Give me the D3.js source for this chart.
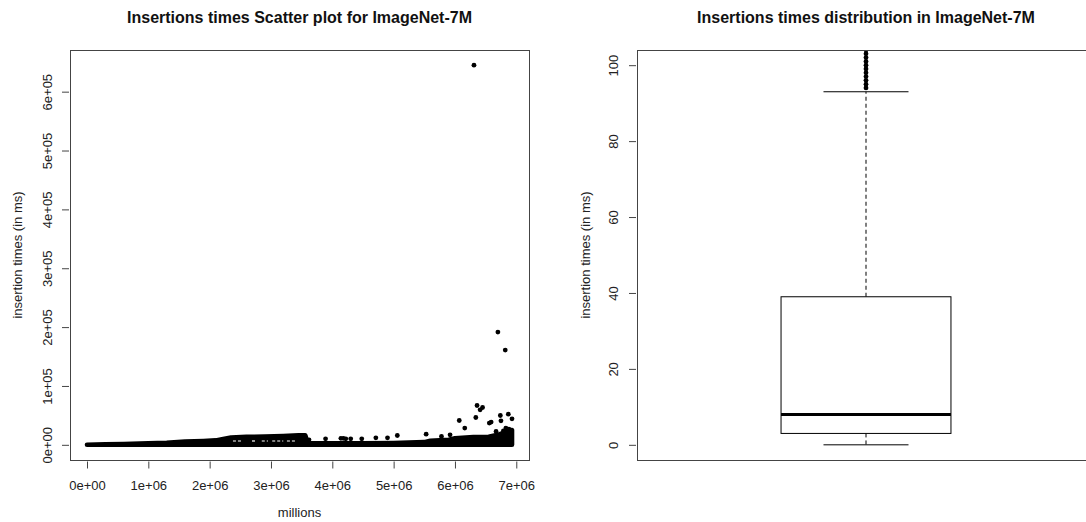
<!DOCTYPE html>
<html><head><meta charset="utf-8">
<script src="https://cdn.jsdelivr.net/npm/d3@7"></script>
<style>body{margin:0;background:#fff}svg{display:block;font-family:"Liberation Sans",Arial,sans-serif}</style>
</head><body><svg id="chart" width="1086" height="522"></svg>
<script>
// ---------- data ----------
const xTickValues = [0, 1e6, 2e6, 3e6, 4e6, 5e6, 6e6, 7e6];
const xTickLabels = ["0e+00", "1e+06", "2e+06", "3e+06", "4e+06", "5e+06", "6e+06", "7e+06"];
const yTickValuesLeft = [0, 1e5, 2e5, 3e5, 4e5, 5e5, 6e5];
const yTickLabelsLeft = ["0e+00", "1e+05", "2e+05", "3e+05", "4e+05", "5e+05", "6e+05"];
const yTickValuesRight = [0, 20, 40, 60, 80, 100];

// dense cloud of points: upper envelope (point centres) along x
const cloudX =   [0, 0.3e6, 0.6e6, 1.0e6, 1.3e6, 1.6e6, 1.9e6, 2.1e6, 2.2e6, 2.35e6, 2.6e6, 2.9e6, 3.2e6, 3.45e6, 3.56e6, 3.6e6, 4.0e6, 4.5e6, 5.0e6, 5.5e6, 5.6e6, 5.9e6, 6.0e6, 6.3e6, 6.55e6, 6.7e6, 6.85e6, 6.93e6];
const cloudTop = [0, 800, 1500, 2500, 3500, 5500, 6500, 7500, 9500, 12500, 13500, 14000, 15000, 16000, 16000, 2500, 2500, 2500, 3000, 4500, 7000, 8500, 11000, 13000, 13500, 17000, 23000, 25000];
// light gaps visible inside the cloud
const gapStart = [2.38e6, 2.69e6, 2.85e6, 3.02e6, 3.26e6];
const gapEnd   = [2.54e6, 2.77e6, 2.95e6, 3.20e6, 3.42e6];
const gapValue = 6500;
// individual visible points
const pointsX = [3.62e6, 3.89e6, 4.14e6, 4.18e6, 4.22e6, 4.30e6, 4.48e6, 4.71e6, 4.90e6, 5.06e6, 5.53e6, 5.78e6, 5.92e6, 6.07e6, 6.16e6, 6.34e6, 6.36e6, 6.41e6, 6.45e6, 6.56e6, 6.59e6, 6.67e6, 6.74e6, 6.75e6, 6.79e6, 6.83e6, 6.87e6, 6.88e6, 6.93e6, 6.31e6, 6.70e6, 6.82e6];
const pointsY = [8500, 10200, 11000, 11000, 10200, 10200, 10200, 11900, 11900, 15800, 18100, 14100, 17000, 41300, 28400, 46400, 66800, 59500, 63400, 36900, 38600, 22600, 49800, 40800, 23800, 28400, 52100, 26700, 44200, 645000, 191600, 161000];

// box plot statistics
const boxStatNames  = ["lowerWhisker", "q1", "median", "q3", "upperWhisker"];
const boxStatValues = [0, 3, 8, 39, 93];
const outliers = [94, 95, 96, 97, 98, 99, 100, 101, 102, 103, 104, 105, 106];

// ---------- layout ----------
const svg = d3.select("#chart");
const L = {left: 70, right: 529, top: 50, bottom: 460};
const R = {left: 637, right: 1095, top: 50, bottom: 460};
const stat = Object.fromEntries(boxStatNames.map((n, i) => [n, boxStatValues[i]]));

function rExt(lo, hi) { const d = (hi - lo) * 0.04; return [lo - d, hi + d]; }

// ---------- left panel ----------
const allX = cloudX.concat(pointsX), allY = cloudTop.concat(pointsY);
const xL = d3.scaleLinear().domain(rExt(d3.min(allX), d3.max(allX))).range([L.left, L.right]);
const yL = d3.scaleLinear().domain(rExt(0, d3.max(allY))).range([L.bottom, L.top]);

svg.append("defs").call(d => {
  d.append("clipPath").attr("id", "clipL").append("rect")
    .attr("x", L.left).attr("y", L.top).attr("width", L.right - L.left).attr("height", L.bottom - L.top);
  d.append("clipPath").attr("id", "clipR").append("rect")
    .attr("x", R.left).attr("y", R.top).attr("width", R.right - R.left).attr("height", R.bottom - R.top);
});

const gL = svg.append("g").attr("clip-path", "url(#clipL)");
const cloud = cloudX.map((x, i) => ({x, y: cloudTop[i]}));
gL.append("path").datum(cloud)
  .attr("d", d3.area().x(d => xL(d.x)).y0(yL(0)).y1(d => yL(d.y)))
  .attr("fill", "#000").attr("stroke", "#000").attr("stroke-width", 4.6).attr("stroke-linejoin", "round");
gL.selectAll("line.gap").data(gapStart).join("line").attr("class", "gap")
  .attr("x1", d => xL(d)).attr("x2", (d, i) => xL(gapEnd[i]))
  .attr("y1", yL(gapValue)).attr("y2", yL(gapValue))
  .attr("stroke", "#fff").attr("stroke-width", 1.2).attr("stroke-dasharray", "3,2");
gL.selectAll("circle").data(pointsX).join("circle")
  .attr("cx", d => xL(d)).attr("cy", (d, i) => yL(pointsY[i])).attr("r", 2.4).attr("fill", "#000");

svg.append("rect").attr("x", L.left + 0.5).attr("y", L.top + 0.5)
  .attr("width", L.right - L.left).attr("height", L.bottom - L.top)
  .attr("fill", "none").attr("stroke", "#444").attr("stroke-width", 1);

svg.append("g").attr("transform", `translate(0,${L.bottom + 1.5})`)
  .call(d3.axisBottom(xL).tickValues(xTickValues).tickFormat((d, i) => xTickLabels[i]).tickSize(7).tickPadding(12));
const axLL = svg.append("g").attr("transform", `translate(${L.left - 1},0)`)
  .call(d3.axisLeft(yL).tickValues(yTickValuesLeft).tickFormat((d, i) => yTickLabelsLeft[i]).tickSize(7));
axLL.selectAll("text").attr("x", 0).attr("dy", null).attr("text-anchor", "middle")
  .attr("dominant-baseline", "central").attr("transform", "translate(-22,0) rotate(-90)");

// ---------- right panel ----------
const xR = d3.scaleLinear().domain([0.5, 1.5]).range([R.left, R.right]);
const yR = d3.scaleLinear().domain(rExt(0, 100)).range([R.bottom, R.top]);
const boxW = 0.371, capW = 0.1856;
const gR = svg.append("g").attr("clip-path", "url(#clipR)");
const dash = "4,3";
gR.append("line").attr("x1", xR(1)).attr("x2", xR(1)).attr("y1", yR(stat.q3)).attr("y2", yR(stat.upperWhisker))
  .attr("stroke", "#000").attr("stroke-dasharray", dash);
gR.append("line").attr("x1", xR(1)).attr("x2", xR(1)).attr("y1", yR(stat.q1)).attr("y2", yR(stat.lowerWhisker))
  .attr("stroke", "#000").attr("stroke-dasharray", dash);
[stat.upperWhisker, stat.lowerWhisker].forEach(v => {
  gR.append("line").attr("x1", xR(1 - capW / 2)).attr("x2", xR(1 + capW / 2))
    .attr("y1", yR(v)).attr("y2", yR(v)).attr("stroke", "#000");
});
gR.append("rect").attr("x", xR(1 - boxW / 2)).attr("y", yR(stat.q3))
  .attr("width", xR(1 + boxW / 2) - xR(1 - boxW / 2)).attr("height", yR(stat.q1) - yR(stat.q3))
  .attr("fill", "#fff").attr("stroke", "#000");
gR.append("line").attr("x1", xR(1 - boxW / 2)).attr("x2", xR(1 + boxW / 2))
  .attr("y1", yR(stat.median)).attr("y2", yR(stat.median)).attr("stroke", "#000").attr("stroke-width", 3);
gR.selectAll("circle").data(outliers).join("circle")
  .attr("cx", xR(1)).attr("cy", d => yR(d)).attr("r", 2.4).attr("fill", "#000");

svg.append("rect").attr("x", R.left + 0.5).attr("y", R.top + 0.5)
  .attr("width", R.right - R.left).attr("height", R.bottom - R.top)
  .attr("fill", "none").attr("stroke", "#444").attr("stroke-width", 1);
const axLR = svg.append("g").attr("transform", `translate(${R.left - 1},0)`)
  .call(d3.axisLeft(yR).tickValues(yTickValuesRight).tickSize(7));
axLR.selectAll("text").attr("x", 0).attr("dy", null).attr("text-anchor", "middle")
  .attr("dominant-baseline", "central").attr("transform", "translate(-23,0) rotate(-90)");

// axis styling like R
svg.selectAll(".domain").remove();
svg.selectAll(".tick line").attr("stroke", "#444");
svg.selectAll(".tick text").attr("font-size", 13).attr("fill", "#222").attr("font-family", "'Liberation Sans',Arial,sans-serif");

// ---------- titles and labels ----------
const midL = (L.left + L.right) / 2, midR = xR(1);
svg.append("text").attr("x", midL).attr("y", 23).attr("text-anchor", "middle")
  .attr("font-weight", "bold").attr("font-size", 16).attr("fill", "#111").text("Insertions times Scatter plot for ImageNet-7M");
svg.append("text").attr("x", midR).attr("y", 23).attr("text-anchor", "middle")
  .attr("font-weight", "bold").attr("font-size", 16).attr("fill", "#111").text("Insertions times distribution in ImageNet-7M");
svg.append("text").attr("x", midL).attr("y", 517).attr("text-anchor", "middle")
  .attr("font-size", 13).attr("fill", "#222").text("millions");
svg.append("text").attr("transform", `translate(17,${(L.top + L.bottom) / 2}) rotate(-90)`)
  .attr("text-anchor", "middle").attr("dominant-baseline", "central")
  .attr("font-size", 13).attr("fill", "#222").text("insertion times (in ms)");
svg.append("text").attr("transform", `translate(585,${(R.top + R.bottom) / 2}) rotate(-90)`)
  .attr("text-anchor", "middle").attr("dominant-baseline", "central")
  .attr("font-size", 13).attr("fill", "#222").text("insertion times (in ms)");
</script></body></html>
